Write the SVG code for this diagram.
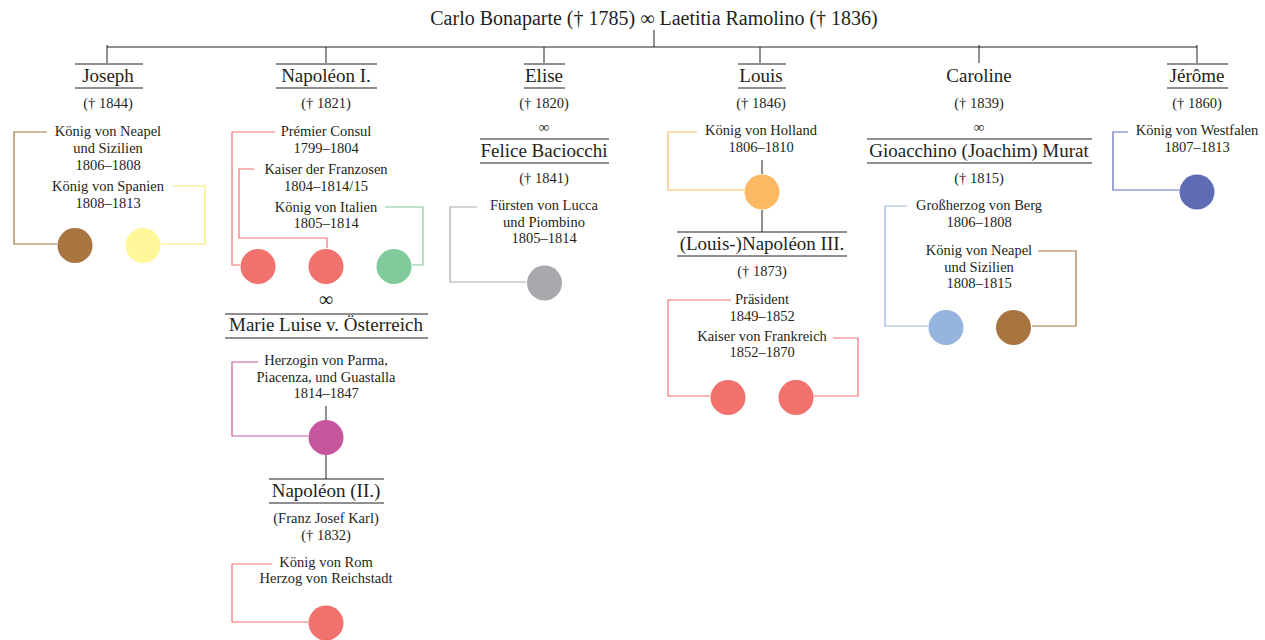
<svg xmlns="http://www.w3.org/2000/svg" width="1265" height="640" viewBox="0 0 1265 640">
<style>
text{font-family:"Liberation Serif","Times New Roman",serif;fill:#231f20;text-anchor:middle}
.hd{font-size:20px}
.nm{font-size:19px}
.sm{font-size:14.5px}
.mg{font-size:15px}
.mgL{font-size:20px}
.rule{stroke:#231f20;stroke-width:1;fill:none}
.tree{stroke:#231f20;stroke-width:1;fill:none}
.c{fill:none;stroke-width:1.2}
.brown{fill:#a87440}.yellow{fill:#fff799}.red{fill:#f1716c}.green{fill:#80ca9b}
.magenta{fill:#c6579e}.gray{fill:#a7a9ac}.orange{fill:#fdb863}.lblue{fill:#95b5df}.dblue{fill:#5d6cb4}
</style>
<rect width="1265" height="640" fill="#ffffff"/>

<g id="connectors">
  <g class="tree">
    <path d="M654 30V47M107 47H1197M107 45V63M326 47V63M544 47V63M760 47V63M979 45V63M1197 45V63"/>
    <path d="M762 160V174M762 210V232"/>
    <path d="M326 406V420M326 455V479"/>
  </g>
  <path class="c" stroke="#a87440" d="M47 132H14V244H57"/>
  <path class="c" stroke="#f7e96a" d="M173 186H205V244H161"/>
  <path class="c" stroke="#f1716c" d="M275 132H232V265H240"/>
  <path class="c" stroke="#f1716c" d="M254 169H239V238H327V248"/>
  <path class="c" stroke="#80ca9b" d="M385 207H423V265H412"/>
  <path class="c" stroke="#c6579e" d="M258 362H232V436H308"/>
  <path class="c" stroke="#f1716c" d="M272 564H232V622H308"/>
  <path class="c" stroke="#a7a9ac" d="M477 207H450V282H526"/>
  <path class="c" stroke="#fdb863" d="M697 132H668V190H744"/>
  <path class="c" stroke="#f1716c" d="M731 300H668V396H710"/>
  <path class="c" stroke="#f1716c" d="M833 338H858V396H814"/>
  <path class="c" stroke="#95b5df" d="M907 206H885V326H928"/>
  <path class="c" stroke="#a87440" d="M1038 251H1076V326H1032"/>
  <path class="c" stroke="#5d6cb4" d="M1128 132H1113V190H1179"/>
</g>

<g id="parents">
  <text class="hd" x="654" y="25">Carlo Bonaparte († 1785) ∞ Laetitia Ramolino († 1836)</text>
</g>

<g id="joseph">
  <path class="rule" d="M75 64H143M75 88H143"/>
  <text class="nm" x="108" y="82">Joseph</text>
  <text class="sm" x="108" y="108">(† 1844)</text>
  <text class="sm" x="108" y="136">König von Neapel</text>
  <text class="sm" x="108" y="153">und Sizilien</text>
  <text class="sm" x="108" y="170">1806–1808</text>
  <text class="sm" x="108" y="191">König von Spanien</text>
  <text class="sm" x="108" y="208">1808–1813</text>
  <circle class="brown" cx="75" cy="245.5" r="17.5"/>
  <circle class="yellow" cx="143" cy="245.5" r="17.5"/>
</g>

<g id="napoleon1">
  <path class="rule" d="M276 64H377M276 88H377"/>
  <text class="nm" x="326" y="82">Napoléon I.</text>
  <text class="sm" x="326" y="108">(† 1821)</text>
  <text class="sm" x="326" y="136">Prémier Consul</text>
  <text class="sm" x="326" y="153">1799–1804</text>
  <text class="sm" x="326" y="174">Kaiser der Franzosen</text>
  <text class="sm" x="326" y="191">1804–1814/15</text>
  <text class="sm" x="326" y="212">König von Italien</text>
  <text class="sm" x="326" y="228">1805–1814</text>
  <circle class="red" cx="258" cy="266.5" r="17.5"/>
  <circle class="red" cx="326" cy="266.5" r="17.5"/>
  <circle class="green" cx="394" cy="266.5" r="17.5"/>
</g>

<g id="marie-luise">
  <text class="mgL" x="326" y="306">∞</text>
  <path class="rule" d="M225 314H428M225 338H428"/>
  <text class="nm" x="326" y="331">Marie Luise v. Österreich</text>
  <text class="sm" x="326" y="365">Herzogin von Parma,</text>
  <text class="sm" x="326" y="382">Piacenza, und Guastalla</text>
  <text class="sm" x="326" y="398">1814–1847</text>
  <circle class="magenta" cx="326" cy="437.5" r="17.5"/>
</g>

<g id="napoleon2">
  <path class="rule" d="M269 479H384M269 503H384"/>
  <text class="nm" x="326" y="497">Napoléon (II.)</text>
  <text class="sm" x="326" y="523">(Franz Josef Karl)</text>
  <text class="sm" x="326" y="540">(† 1832)</text>
  <text class="sm" x="326" y="567">König von Rom</text>
  <text class="sm" x="326" y="583">Herzog von Reichstadt</text>
  <circle class="red" cx="326" cy="623" r="17.5"/>
</g>

<g id="elise">
  <path class="rule" d="M524 64H565M524 88H565"/>
  <text class="nm" x="544" y="82">Elise</text>
  <text class="sm" x="544" y="108">(† 1820)</text>
</g>

<g id="felice">
  <text class="mg" x="544" y="132">∞</text>
  <path class="rule" d="M480 139H609M480 163H609"/>
  <text class="nm" x="544" y="157">Felice Baciocchi</text>
  <text class="sm" x="544" y="183">(† 1841)</text>
  <text class="sm" x="544" y="210">Fürsten von Lucca</text>
  <text class="sm" x="544" y="227">und Piombino</text>
  <text class="sm" x="544" y="243">1805–1814</text>
  <circle class="gray" cx="544.5" cy="283" r="17.5"/>
</g>

<g id="louis">
  <path class="rule" d="M738 64H786M738 88H786"/>
  <text class="nm" x="761" y="82">Louis</text>
  <text class="sm" x="761" y="108">(† 1846)</text>
  <text class="sm" x="761" y="135">König von Holland</text>
  <text class="sm" x="761" y="152">1806–1810</text>
  <circle class="orange" cx="762" cy="192" r="17.5"/>
</g>

<g id="napoleon3">
  <path class="rule" d="M677 232H847M677 256H847"/>
  <text class="nm" x="762" y="250">(Louis-)Napoléon III.</text>
  <text class="sm" x="762" y="276">(† 1873)</text>
  <text class="sm" x="762" y="304">Präsident</text>
  <text class="sm" x="762" y="321">1849–1852</text>
  <text class="sm" x="762" y="341">Kaiser von Frankreich</text>
  <text class="sm" x="762" y="357">1852–1870</text>
  <circle class="red" cx="728" cy="397.5" r="17.5"/>
  <circle class="red" cx="796" cy="397.5" r="17.5"/>
</g>

<g id="caroline">
  <text class="nm" x="979" y="82">Caroline</text>
  <text class="sm" x="979" y="108">(† 1839)</text>
</g>

<g id="murat">
  <text class="mg" x="979" y="132">∞</text>
  <path class="rule" d="M867 139H1092M867 163H1092"/>
  <text class="nm" x="979" y="157">Gioacchino (Joachim) Murat</text>
  <text class="sm" x="979" y="183">(† 1815)</text>
  <text class="sm" x="979" y="210">Großherzog von Berg</text>
  <text class="sm" x="979" y="227">1806–1808</text>
  <text class="sm" x="979" y="255">König von Neapel</text>
  <text class="sm" x="979" y="272">und Sizilien</text>
  <text class="sm" x="979" y="288">1808–1815</text>
  <circle class="lblue" cx="946" cy="327.5" r="17.5"/>
  <circle class="brown" cx="1013.5" cy="327.5" r="17.5"/>
</g>

<g id="jerome">
  <path class="rule" d="M1167 64H1228M1167 88H1228"/>
  <text class="nm" x="1197" y="82">Jérôme</text>
  <text class="sm" x="1197" y="108">(† 1860)</text>
  <text class="sm" x="1197" y="135">König von Westfalen</text>
  <text class="sm" x="1197" y="152">1807–1813</text>
  <circle class="dblue" cx="1197" cy="192" r="17.5"/>
</g>
</svg>
